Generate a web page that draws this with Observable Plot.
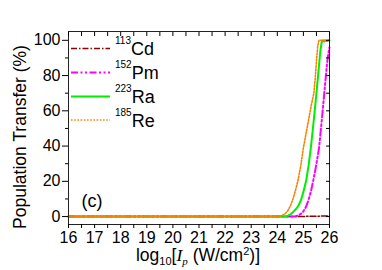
<!DOCTYPE html>
<html><head><meta charset="utf-8">
<script src="https://cdn.jsdelivr.net/npm/d3@7"></script>
<script src="https://cdn.jsdelivr.net/npm/@observablehq/plot@0.6"></script>
<style>
body{margin:0;background:#fff;}
svg{font-family:"Liberation Sans",Arial,sans-serif;}
</style>
</head><body><div id="chart"></div>
<script>
const xTicks = [16,17,18,19,20,21,22,23,24,25,26];
const xMinor = [16.5,17.5,18.5,19.5,20.5,21.5,22.5,23.5,24.5,25.5];
const yTicks = [0,20,40,60,80,100];
const yMinor = [10,30,50,70,90];
const massNumbers = ["113","152","223","185"];
const elements = ["Cd","Pm","Ra","Re"];

const cdX = [16, 24.5, 25, 25.5, 26];
const cdY = [0, 0, 0.1, 0.2, 0.4];
const pmX = [16, 24.6, 24.7, 24.8, 24.9, 25.0, 25.1, 25.2, 25.3, 25.4, 25.5, 25.6, 25.7, 25.8, 25.9, 25.95, 26];
const pmY = [0, 0, 0.2, 0.6, 1.5, 3, 5.5, 9.5, 15, 22, 30, 39, 54, 70, 86, 92, 96];
const raX = [16, 24.3, 24.4, 24.5, 24.6, 24.7, 24.8, 24.9, 25.0, 25.1, 25.2, 25.3, 25.4, 25.5, 25.6, 25.65, 25.7, 25.75, 25.8, 25.85, 25.9, 26];
const raY = [0, 0, 0.4, 1.2, 2.5, 4, 6, 9, 14, 20, 29, 41, 55, 70, 86, 94, 99, 100, 99.4, 100, 99.6, 100];
const reX = [16, 24.0, 24.1, 24.2, 24.3, 24.4, 24.5, 24.6, 24.7, 24.8, 24.9, 25.0, 25.1, 25.2, 25.3, 25.4, 25.45, 25.5, 25.55, 25.6, 26];
const reY = [0, 0, 0.2, 0.7, 1.6, 3.3, 6, 10, 15, 21, 29, 39, 47, 55, 63, 70, 78, 88, 97, 100, 100];

const styles = [
  {stroke:"#8b0000", strokeWidth:1.5, dash:"6,2,1.5,2"},
  {stroke:"#ff00ff", strokeWidth:2, dash:"7,2.5,2,2.5,2,2.5"},
  {stroke:"#00ee00", strokeWidth:2, dash:null},
  {stroke:"#ff8000", strokeWidth:1.6, dash:"1.6,1.6"}
];
const seriesX = [cdX, pmX, raX, reX];
const seriesY = [cdY, pmY, raY, reY];

const lineMarks = seriesX.map((xs, i) => {
  const rows = xs.map((x, j) => ({x, y: seriesY[i][j]}));
  return Plot.line(rows, {x:"x", y:"y", stroke:styles[i].stroke, strokeWidth:styles[i].strokeWidth, strokeDasharray:styles[i].dash});
});

const plot = Plot.plot({
  width:382, height:270,
  marginLeft:68, marginRight:53, marginTop:31, marginBottom:46,
  style:{fontFamily:"'Liberation Sans',Arial,sans-serif", fontSize:"16px", color:"#000", background:"#fff"},
  x:{domain:[16,26]},
  y:{domain:[-4.5,105]},
  marks:[
    ...lineMarks,
    Plot.frame({stroke:"#222", strokeWidth:1}),
    Plot.axisX({ticks:xTicks, tickSize:4, tickPadding:3, label:null, tickFormat:d=>String(d), fontSize:16}),
    Plot.axisX({ticks:xMinor, tickSize:4, label:null, tickFormat:()=>""}),
    Plot.axisX({anchor:"top", ticks:[...xTicks, ...xMinor], tickSize:-4, label:null, tickFormat:()=>""}),
    Plot.axisY({ticks:yTicks, tickSize:6, tickPadding:2, label:null, tickFormat:d=>String(d), fontSize:16}),
    Plot.axisY({ticks:yMinor, tickSize:3, label:null, tickFormat:()=>""}),
    Plot.axisY({anchor:"right", ticks:[...yTicks, ...yMinor], tickSize:-4, label:null, tickFormat:()=>""}),
    Plot.text(["(c)"], {text:d=>d, frameAnchor:"bottom-left", textAnchor:"start", lineAnchor:"middle", dx:13, dy:-23, fontSize:18})
  ]
});
document.getElementById("chart").append(plot);

const svg = d3.select(plot);
// legend
const legY = [48.5, 72.5, 96.5, 120];
const leg = svg.append("g").attr("text-anchor","start");
elements.forEach((el, i) => {
  const s = styles[i];
  leg.append("line").attr("x1",71).attr("x2",110).attr("y1",legY[i]).attr("y2",legY[i])
    .attr("stroke",s.stroke).attr("stroke-width",s.strokeWidth).attr("stroke-dasharray",s.dash);
  const t = leg.append("text").attr("x",115).attr("y",legY[i]+6.5).attr("text-anchor","start")
    .attr("font-size",18).attr("fill","#000");
  t.append("tspan").attr("font-size",10).attr("dy",-11).text(massNumbers[i]);
  t.append("tspan").attr("font-size",18).attr("dy",11).text(el);
});
// x label
const xl = svg.append("text").attr("x",198).attr("y",261).attr("text-anchor","middle").attr("font-size",17.5).attr("fill","#000");
xl.append("tspan").text("log");
xl.append("tspan").attr("font-size",11).attr("dy",4).text("10");
xl.append("tspan").attr("dy",-4).text("[");
xl.append("tspan").attr("font-family","'Liberation Serif',serif").attr("font-style","italic").text("I");
xl.append("tspan").attr("font-family","'Liberation Serif',serif").attr("font-style","italic").attr("font-size",11).attr("dy",4).text("p");
xl.append("tspan").attr("dy",-4).text("\u00a0(W/cm");
xl.append("tspan").attr("font-size",11).attr("dy",-6).text("2");
xl.append("tspan").attr("dy",6).text(")]");
// y label
svg.append("text").attr("transform","translate(26,137) rotate(-90)").attr("text-anchor","middle")
  .attr("font-size",17.5).attr("fill","#000").text("Population Transfer (%)");
</script>
</body></html>
